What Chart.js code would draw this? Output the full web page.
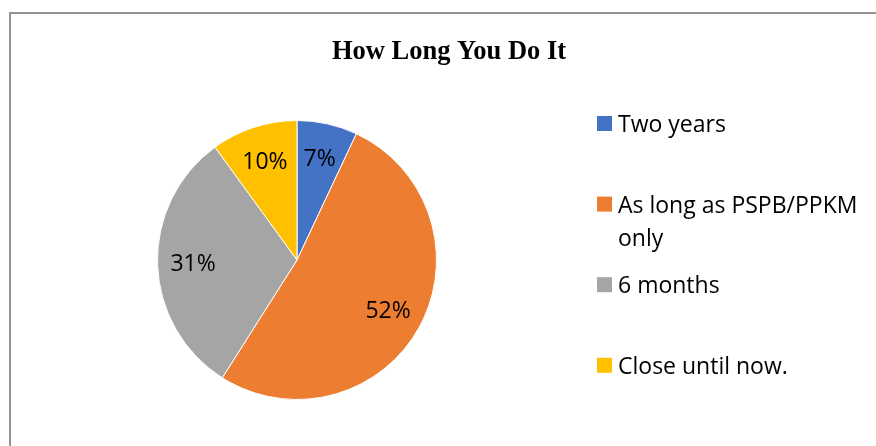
<!DOCTYPE html>
<html>
<head>
<meta charset="utf-8">
<script src="https://cdn.jsdelivr.net/npm/chart.js@4.4.0/dist/chart.umd.min.js"></script>
<style>
  body { margin: 0; background: #ffffff; }
  canvas { display: block; }
</style>
</head>
<body>
<canvas id="pieChart" width="876" height="446"></canvas>
<script>
// Datos del gráfico
const titulo = "How Long You Do It";
const categorias = ["Two years", "As long as PSPB/PPKM only", "6 months", "Close until now."];
const porcentajes = [7, 52, 31, 10];
const colores = ["#4472C4", "#ED7D31", "#A5A5A5", "#FFC000"];

const fuenteTexto = '23px "Open Sans", "Noto Sans", sans-serif';

// Partir el texto en líneas según el ancho máximo
function partirTexto(ctx, texto, anchoMax) {
  const palabras = texto.split(" ");
  let lineas = [];
  let actual = "";
  palabras.forEach(function (palabra) {
    const prueba = actual ? actual + " " + palabra : palabra;
    if (ctx.measureText(prueba).width > anchoMax && actual) {
      lineas.push(actual);
      actual = palabra;
    } else {
      actual = prueba;
    }
  });
  if (actual) lineas.push(actual);
  return lineas;
}

const extrasPlugin = {
  id: "extras",
  beforeDraw(chart) {
    const ctx = chart.ctx;
    ctx.save();
    // marco gris arriba e izquierda
    ctx.fillStyle = "#939393";
    ctx.fillRect(9, 12, chart.width - 9, 2);
    ctx.fillRect(9, 12, 2, chart.height - 12);
    // título
    ctx.fillStyle = "#000000";
    ctx.font = 'bold 26.5px "Liberation Serif", "Times New Roman", serif';
    ctx.textAlign = "center";
    ctx.textBaseline = "alphabetic";
    ctx.fillText(titulo, 449, 59);
    ctx.restore();
  },
  afterDatasetsDraw(chart) {
    const ctx = chart.ctx;
    const meta = chart.getDatasetMeta(0);
    ctx.save();
    ctx.font = fuenteTexto;
    ctx.fillStyle = "#000000";
    ctx.textAlign = "center";
    ctx.textBaseline = "middle";
    meta.data.forEach(function (arc, index) {
      const p = arc.getProps(["x", "y", "startAngle", "endAngle", "outerRadius"], true);
      const medio = (p.startAngle + p.endAngle) / 2;
      const r = p.outerRadius * 0.745;
      const x = p.x + Math.cos(medio) * r;
      const y = p.y + Math.sin(medio) * r;
      ctx.fillText(`${chart.data.datasets[0].data[index]}%`, x, y + 1);
    });
    ctx.restore();
  },
  afterDraw(chart) {
    // leyenda a la derecha
    const ctx = chart.ctx;
    ctx.save();
    ctx.font = fuenteTexto;
    ctx.textAlign = "left";
    ctx.textBaseline = "alphabetic";
    chart.data.labels.forEach(function (etiqueta, index) {
      const base = 132 + index * 80.6;
      ctx.fillStyle = colores[index];
      ctx.fillRect(597, base - 16, 15, 15);
      ctx.fillStyle = "#000000";
      const lineas = partirTexto(ctx, etiqueta, 250);
      lineas.forEach(function (linea, i) {
        ctx.fillText(linea, 618, base + i * 33);
      });
    });
    ctx.restore();
  },
};

const ctx = document.getElementById("pieChart").getContext("2d");
const myChart = new Chart(ctx, {
  type: "pie",
  data: {
    labels: categorias,
    datasets: [
      {
        data: porcentajes,
        backgroundColor: colores,
        borderColor: "#ffffff",
        borderWidth: 1,
      },
    ],
  },
  options: {
    responsive: false,
    animation: false,
    devicePixelRatio: 1,
    layout: {
      padding: { left: 157, right: 439, top: 120, bottom: 46 },
    },
    plugins: {
      legend: { display: false },
      title: { display: false },
      tooltip: { enabled: false },
    },
  },
  plugins: [extrasPlugin],
});
</script>
</body>
</html>
